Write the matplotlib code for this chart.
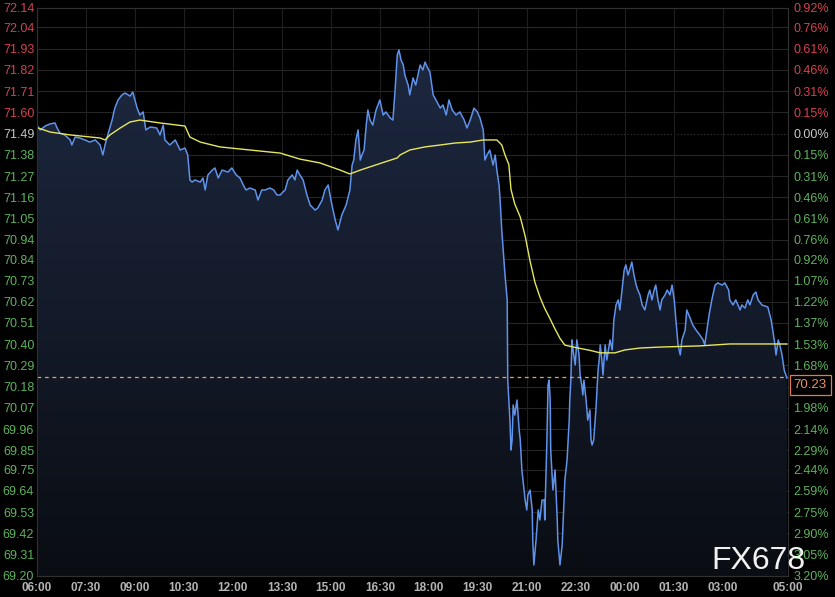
import matplotlib
matplotlib.use("Agg")
import matplotlib.pyplot as plt
import numpy as np
from matplotlib.colors import LinearSegmentedColormap

plt.rcParams['font.family'] = ['Liberation Sans', 'DejaVu Sans']

# minutes after 06:00 and price
price_t = [2, 6, 15, 24, 33, 37, 42, 51, 61, 64, 70, 79, 88, 97, 107, 116, 121, 125, 130, 138,
           143, 149, 156, 162, 171, 176, 184, 189, 195, 200, 208, 220, 226, 232, 235, 244, 254, 263, 272, 277,
           281, 285, 290, 300, 305, 309, 314, 322, 327, 333, 340, 351, 358, 366, 373, 379, 384, 391, 401, 406,
           413, 419, 428, 435, 441, 447, 452, 456, 461, 469, 474, 478, 483, 489, 496, 502, 511, 516, 524, 529,
           535, 542, 548, 553, 560, 568, 575, 579, 582, 586, 590, 594, 597, 601, 605, 608, 612, 617, 623, 630,
           636, 641, 649, 654, 658, 662, 665, 669, 673, 676, 682, 685, 691, 696, 700, 704, 709, 713, 718, 722,
           728, 733, 741, 746, 752, 757, 763, 770, 777, 785, 790, 796, 803, 809, 814, 820, 823, 827, 832, 838,
           842, 845, 849, 851, 854, 860, 864, 865, 867, 869, 871, 873, 875, 878, 882, 886, 888, 891, 893, 897,
           900, 902, 906, 910, 911, 913, 917, 921, 924, 928, 932, 933, 935, 937, 939, 941, 943, 944, 946, 948,
           952, 956, 957, 961, 965, 967, 970, 974, 978, 979, 981, 983, 985, 989, 992, 996, 998, 1001, 1003, 1005,
           1009, 1012, 1016, 1018, 1020, 1023, 1027, 1029, 1031, 1033, 1035, 1038, 1040, 1044, 1047, 1053, 1057, 1060, 1064, 1068,
           1071, 1075, 1079, 1082, 1086, 1090, 1093, 1097, 1101, 1104, 1108, 1112, 1117, 1123, 1126, 1130, 1134, 1137, 1141, 1145,
           1148, 1154, 1158, 1163, 1167, 1171, 1174, 1178, 1182, 1185, 1191, 1194, 1200, 1205, 1211, 1218, 1224, 1227, 1231, 1235,
           1240, 1246, 1251, 1259, 1264, 1271, 1273, 1279, 1284, 1292, 1295, 1301, 1306, 1310, 1316, 1321, 1325, 1332, 1343, 1349,
           1352, 1356, 1358, 1362, 1365, 1369, 1373, 1378]
price = [71.524, 71.509, 71.529, 71.540, 71.545, 71.519, 71.493, 71.483, 71.457, 71.431, 71.472, 71.467, 71.457, 71.446, 71.457, 71.431, 71.379, 71.431, 71.483, 71.560,
         71.622, 71.664, 71.690, 71.700, 71.684, 71.705, 71.622, 71.586, 71.602, 71.509, 71.524, 71.519, 71.483, 71.534, 71.457, 71.431, 71.457, 71.405, 71.415, 71.379,
         71.250, 71.239, 71.250, 71.239, 71.260, 71.198, 71.276, 71.301, 71.312, 71.260, 71.301, 71.291, 71.312, 71.276, 71.260, 71.224, 71.198, 71.208, 71.198, 71.146,
         71.198, 71.198, 71.208, 71.198, 71.172, 71.172, 71.188, 71.198, 71.250, 71.276, 71.250, 71.301, 71.276, 71.250, 71.172, 71.120, 71.094, 71.105, 71.146, 71.198,
         71.224, 71.120, 71.043, 70.991, 71.068, 71.120, 71.198, 71.327, 71.353, 71.457, 71.509, 71.353, 71.379, 71.405, 71.534, 71.612, 71.560, 71.534, 71.612, 71.664,
         71.586, 71.602, 71.571, 71.560, 71.716, 71.897, 71.923, 71.871, 71.845, 71.793, 71.741, 71.690, 71.778, 71.741, 71.793, 71.845, 71.819, 71.860, 71.829, 71.809,
         71.690, 71.664, 71.622, 71.638, 71.586, 71.664, 71.612, 71.586, 71.602, 71.560, 71.519, 71.560, 71.622, 71.602, 71.571, 71.509, 71.353, 71.379, 71.405, 71.327,
         71.379, 71.301, 71.224, 71.146, 70.991, 70.758, 70.629, 70.214, 70.111, 70.007, 69.852, 69.905, 70.085, 70.033, 70.111, 69.956, 69.905, 69.749, 69.697, 69.593,
         69.542, 69.619, 69.645, 69.542, 69.386, 69.257, 69.386, 69.542, 69.490, 69.593, 69.593, 69.490, 69.697, 69.905, 70.189, 70.214, 70.111, 69.852, 69.749, 69.645,
         69.749, 69.490, 69.386, 69.257, 69.360, 69.490, 69.697, 69.800, 70.007, 70.111, 70.214, 70.422, 70.370, 70.292, 70.422, 70.344, 70.240, 70.189, 70.137, 70.214,
         70.111, 70.007, 70.059, 69.905, 69.878, 69.905, 70.059, 70.163, 70.266, 70.318, 70.396, 70.318, 70.240, 70.396, 70.318, 70.422, 70.370, 70.525, 70.603, 70.629,
         70.577, 70.680, 70.784, 70.810, 70.758, 70.794, 70.825, 70.758, 70.706, 70.680, 70.655, 70.603, 70.577, 70.655, 70.680, 70.629, 70.680, 70.706, 70.629, 70.577,
         70.629, 70.655, 70.680, 70.655, 70.706, 70.629, 70.525, 70.396, 70.344, 70.422, 70.473, 70.577, 70.536, 70.499, 70.473, 70.447, 70.422, 70.396, 70.473, 70.551,
         70.629, 70.706, 70.717, 70.706, 70.717, 70.680, 70.629, 70.603, 70.629, 70.577, 70.603, 70.587, 70.629, 70.603, 70.655, 70.670, 70.629, 70.603, 70.592, 70.525,
         70.473, 70.396, 70.344, 70.422, 70.396, 70.344, 70.266, 70.225]

avg_t = [2, 24, 61, 116, 125, 134, 153, 171, 189, 226, 272, 281, 300, 336, 391, 447, 483, 520, 557, 575,
         594, 639, 662, 667, 685, 713, 741, 768, 796, 820, 845, 854, 860, 867, 871, 878, 888, 897, 906, 915,
         924, 933, 943, 952, 961, 970, 989, 1016, 1035, 1062, 1080, 1108, 1145, 1218, 1273, 1378]
avg = [71.519, 71.498, 71.483, 71.467, 71.457, 71.483, 71.519, 71.550, 71.560, 71.545, 71.529, 71.472, 71.446, 71.421, 71.405, 71.389, 71.358, 71.338, 71.301, 71.281,
       71.301, 71.343, 71.364, 71.379, 71.405, 71.421, 71.431, 71.441, 71.446, 71.457, 71.457, 71.431, 71.379, 71.330, 71.200, 71.125, 71.058, 70.960, 70.830, 70.720,
       70.645, 70.585, 70.530, 70.478, 70.430, 70.395, 70.383, 70.368, 70.355, 70.355, 70.370, 70.380, 70.385, 70.391, 70.401, 70.401]

last_price = 70.23
prev_close = 71.49

price_ticks = [72.14, 72.04, 71.93, 71.82, 71.71, 71.60, 71.49, 71.38, 71.27, 71.16, 71.05, 70.94, 70.84, 70.73,
               70.62, 70.51, 70.40, 70.29, 70.18, 70.07, 69.96, 69.85, 69.75, 69.64, 69.53, 69.42, 69.31, 69.20]
pct_labels = ['0.92%', '0.76%', '0.61%', '0.46%', '0.31%', '0.15%', '0.00%', '0.15%', '0.31%', '0.46%', '0.61%',
              '0.76%', '0.92%', '1.07%', '1.22%', '1.37%', '1.53%', '1.68%', '', '1.98%', '2.14%', '2.29%',
              '2.44%', '2.59%', '2.75%', '2.90%', '3.05%', '3.20%']
time_ticks = [0, 90, 180, 270, 360, 450, 540, 630, 720, 810, 900, 990, 1080, 1170, 1260, 1380]
time_labels = ['06:00', '07:30', '09:00', '10:30', '12:00', '13:30', '15:00', '16:30', '18:00', '19:30',
               '21:00', '22:30', '00:00', '01:30', '03:00', '05:00']

RED = '#d8404f'
GREEN = '#5db35d'
GREY = '#c8c8c8'

fig = plt.figure(figsize=(8.35, 5.97), dpi=100, facecolor='black')
ax = fig.add_axes([37 / 835, 21 / 597, 751 / 835, 568 / 597])
ax.set_facecolor('black')
ax.set_xlim(0, 1380)
ax.set_ylim(69.20, 72.14)

# grid
for p in price_ticks:
    if abs(p - prev_close) < 1e-6:
        ax.axhline(p, color='#3a3a3a', lw=0.8, ls=(0, (1, 2)), zorder=0)
    else:
        ax.axhline(p, color='#262626', lw=0.8, zorder=0)
for t in range(0, 1380, 90):
    ax.axvline(t, color='#1f1f1f', lw=0.8, zorder=0)

# gradient fill under the price line
poly = ax.fill_between(price_t, price, 69.20, color='none', lw=0)
cmap = LinearSegmentedColormap.from_list('fill', ['#0a0d13', '#1d2840'])
grad = np.linspace(0, 1, 256).reshape(-1, 1)
im = ax.imshow(grad, extent=[0, 1380, 69.20, max(price)], origin='lower', aspect='auto',
               cmap=cmap, zorder=1)
im.set_clip_path(poly.get_paths()[0], transform=ax.transData)
ax.set_xlim(0, 1380)
ax.set_ylim(69.20, 72.14)

ax.plot(price_t, price, color='#5f92ea', lw=1.1, zorder=3)
ax.plot(avg_t, avg, color='#e6e65c', lw=1.0, zorder=4)
ax.axhline(last_price, color='#e8a060', lw=0.9, ls=(0, (3, 3)), zorder=5)

# left axis
ax.set_yticks(price_ticks)
ax.set_yticklabels(['%.2f' % p for p in price_ticks])
for lab, p in zip(ax.get_yticklabels(), price_ticks):
    lab.set_color(RED if p > prev_close + 1e-6 else (GREEN if p < prev_close - 1e-6 else GREY))
ax.tick_params(axis='y', length=0, pad=2, labelsize=9)
ax.set_xticks(time_ticks)
ax.set_xticklabels(time_labels, fontweight='bold')
ax.tick_params(axis='x', length=0, pad=4, labelsize=8.5, colors='#b4b4b4')

# right axis
ax2 = ax.twinx()
ax2.set_ylim(69.20, 72.14)
ax2.set_yticks(price_ticks)
ax2.set_yticklabels(pct_labels)
for lab, p in zip(ax2.get_yticklabels(), price_ticks):
    lab.set_color(RED if p > prev_close + 1e-6 else (GREEN if p < prev_close - 1e-6 else GREY))
ax2.tick_params(axis='y', length=0, pad=4, labelsize=9)

for a in (ax, ax2):
    for s in a.spines.values():
        s.set_color('#303030')
        s.set_linewidth(0.8)

ax.annotate('%.2f' % last_price, xy=(1, last_price), xycoords=('axes fraction', 'data'),
            xytext=(4, -6), textcoords='offset points', va='center', ha='left',
            fontsize=9.5, color='#e8906a', zorder=10, annotation_clip=False,
            bbox=dict(boxstyle='square,pad=0.3', fc='black', ec='#e07a55', lw=0.9))

fig.text(805 / 835, 1 - 561 / 597, 'FX678', color='white', fontsize=23, ha='right', va='center',
         alpha=0.95)

fig.savefig('out.png', dpi=100, facecolor='black')
